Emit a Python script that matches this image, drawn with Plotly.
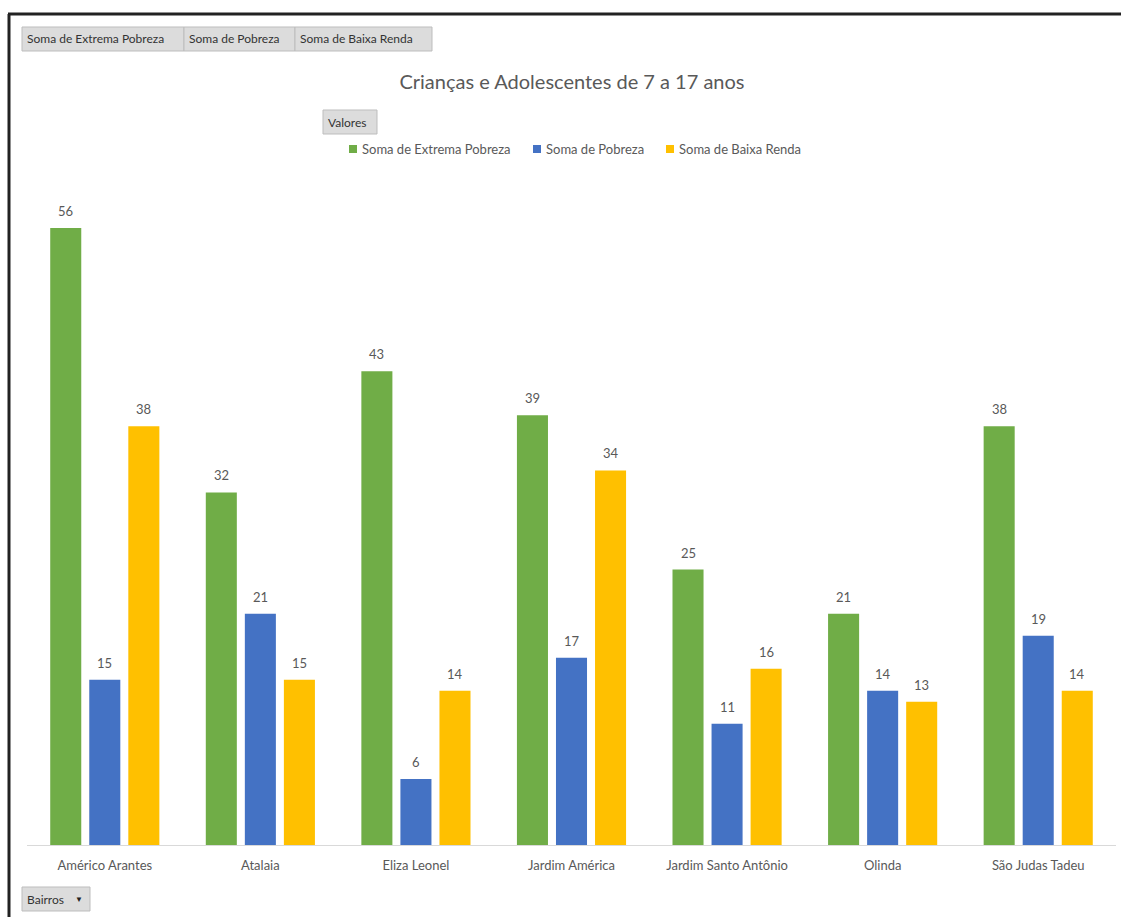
import plotly.graph_objects as go

categories = ["Américo Arantes", "Atalaia", "Eliza Leonel", "Jardim América",
              "Jardim Santo Antônio", "Olinda", "São Judas Tadeu"]
extrema_pobreza = [56, 32, 43, 39, 25, 21, 38]
pobreza = [15, 21, 6, 17, 11, 14, 19]
baixa_renda = [38, 15, 14, 34, 16, 13, 14]
series_names = ["Soma de Extrema Pobreza", "Soma de Pobreza", "Soma de Baixa Renda"]
colors = ["#70AD47", "#4472C4", "#FFC000"]

W, H = 1121, 917
ML, MR, MT, MB = 27, 5, 150, 72
PW = W - ML - MR
PH = H - MT - MB

def px(x):
    return (x - ML) / PW

def py(y):
    return (H - MB - y) / PH

FONT = "Lato"
GRAY = "#595959"

fig = go.Figure()
series = [extrema_pobreza, pobreza, baixa_renda]
for name, vals, col in zip(series_names, series, colors):
    fig.add_trace(go.Bar(
        x=categories, y=vals, name=name, marker=dict(color=col, line=dict(width=0)),
        showlegend=False,
    ))

shapes = []
annotations = []

# data labels
offsets = [-39, 0, 39]
for vals, off in zip(series, offsets):
    for c, v in zip(categories, vals):
        annotations.append(dict(x=c, y=v, xref="x", yref="y", xshift=off, yshift=17,
                                text=str(v), showarrow=False, xanchor="center", yanchor="middle",
                                font=dict(size=13, color=GRAY, family=FONT)))

def button(x0, x1, y0, y1, label, arrow=False):
    shapes.append(dict(type="rect", xref="paper", yref="paper",
                       x0=px(x0), x1=px(x1), y0=py(y1), y1=py(y0),
                       fillcolor="#DCDCDC", line=dict(color="#BDBDBD", width=1), layer="above"))
    annotations.append(dict(xref="paper", yref="paper", x=px(x0 + 3), y=py((y0 + y1) / 2),
                            xanchor="left", yanchor="middle", showarrow=False,
                            text=label, font=dict(size=12, color="#333333", family=FONT)))
    if arrow:
        annotations.append(dict(xref="paper", yref="paper", x=px(x1 - 11), y=py((y0 + y1) / 2),
                                xanchor="center", yanchor="middle", showarrow=False,
                                text="▼", font=dict(size=8, color="#222222", family=FONT)))

button(22, 184, 27, 51, "Soma de Extrema Pobreza")
button(184, 295, 27, 51, "Soma de Pobreza")
button(295, 432, 27, 51, "Soma de Baixa Renda")
button(323, 377, 110, 134, "Valores")
button(22, 90, 887, 911, "Bairros", arrow=True)

# custom legend
legend_x = [349, 533, 666]
for lx, name, col in zip(legend_x, series_names, colors):
    shapes.append(dict(type="rect", xref="paper", yref="paper",
                       x0=px(lx), x1=px(lx + 8), y0=py(153), y1=py(145),
                       fillcolor=col, line=dict(width=0)))
    annotations.append(dict(xref="paper", yref="paper", x=px(lx + 11), y=py(149),
                            xanchor="left", yanchor="middle", showarrow=False,
                            text=name, font=dict(size=13, color=GRAY, family=FONT)))

# outer frame lines
shapes.append(dict(type="line", xref="paper", yref="paper", x0=px(8), x1=px(W + 5), y0=py(14), y1=py(14),
                   line=dict(color="#222222", width=3)))
shapes.append(dict(type="line", xref="paper", yref="paper", x0=px(9), x1=px(9), y0=py(14), y1=py(H + 5),
                   line=dict(color="#222222", width=3)))

fig.update_layout(
    width=W, height=H,
    margin=dict(l=ML, r=MR, t=MT, b=MB, pad=0),
    paper_bgcolor="white", plot_bgcolor="white",
    barmode="group", bargap=0.247, bargroupgap=0.205,
    title=dict(text="Crianças e Adolescentes de 7 a 17 anos", xref="container", x=572 / W,
               xanchor="center", y=1 - 82 / H, yanchor="middle",
               font=dict(size=20, color=GRAY, family=FONT)),
    xaxis=dict(showline=True, linecolor="#D9D9D9", linewidth=1, ticks="",
               ticklabelstandoff=8,
               tickfont=dict(size=13, color=GRAY, family=FONT), showgrid=False),
    yaxis=dict(range=[0, 56 * PH / (845 - 228)], visible=False, showgrid=False, zeroline=False),
    shapes=shapes, annotations=annotations, showlegend=False,
    font=dict(family=FONT),
)

fig.write_html("out.html", config={"displayModeBar": False},
               post_script="document.body.style.margin='0';")
